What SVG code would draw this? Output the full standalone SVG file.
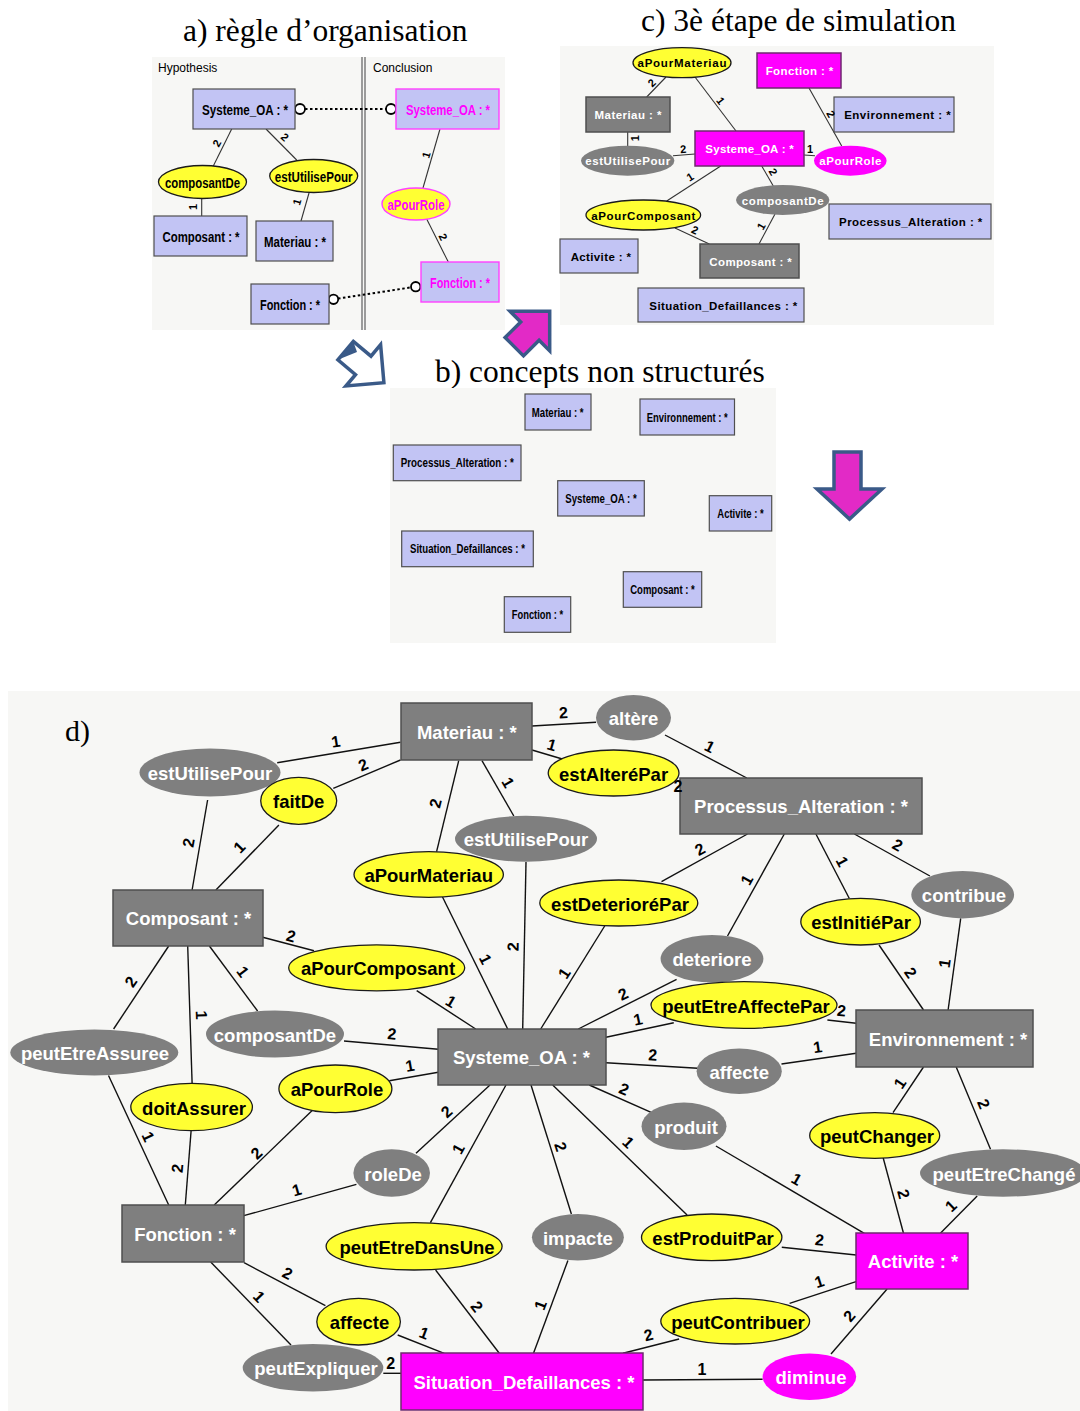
<svg xmlns="http://www.w3.org/2000/svg" width="1080" height="1411" viewBox="0 0 1080 1411">
<style>
.bg{fill:#f7f7f5}
.title{font-family:"Liberation Serif","Times New Roman",serif;font-size:31.5px;fill:#000}
text{font-family:"Liberation Sans",Arial,sans-serif}
.ln{stroke:#111;stroke-width:1.4;fill:none}
.lns{stroke:#333;stroke-width:1.1;fill:none}
.dot{stroke:#000;stroke-width:2;stroke-dasharray:2.5 2.5;fill:none}
.hole{fill:#fff;stroke:#000;stroke-width:1.8}
.gr{fill:#7f7f7f;stroke:#4f4f4f;stroke-width:1.5}
.lv{fill:#c2c4f4;stroke:#4f4f4f;stroke-width:1.2}
.lvm{fill:#c2c4f4;stroke:#ff40ff;stroke-width:1.4}
.mg{fill:#ff00ff;stroke:#6e2a6e;stroke-width:1.5}
.ye{fill:#ffff33;stroke:#1a1a1a;stroke-width:1.3}
.yem{fill:#ffff33;stroke:#ff40ff;stroke-width:1.4}
.ge{fill:#7f7f7f}
.me{fill:#ff00ff}
.L{font-size:18.5px;font-weight:bold;text-anchor:middle;dominant-baseline:central}
.S{font-size:14px;font-weight:bold;text-anchor:middle;dominant-baseline:central}
.B{font-size:12.5px;font-weight:bold;text-anchor:middle;dominant-baseline:central}
.C{font-size:11.5px;font-weight:bold;text-anchor:middle;dominant-baseline:central}
.el{font-size:16px;font-weight:bold;text-anchor:middle;dominant-baseline:central;fill:#000}
.es{font-size:11px;font-weight:bold;text-anchor:middle;dominant-baseline:central;fill:#000}
.w{fill:#fff}
.k{fill:#000}
.m{fill:#ff00ff}
.arr{fill:#e22ac6;stroke:#3a5a88;stroke-width:3.5;stroke-linejoin:miter}
.arrh{fill:#fff;stroke:#3a5a88;stroke-width:3.5}
</style>
<rect width="1080" height="1411" fill="#fff"/>

<!-- titles -->
<text class="title" x="183" y="41">a) règle d’organisation</text>
<text class="title" x="641" y="31">c) 3è étape de simulation</text>
<text class="title" x="435" y="382">b) concepts non structurés</text>

<!-- panel backgrounds -->
<rect class="bg" x="152" y="57" width="353" height="273"/>
<rect class="bg" x="560" y="46" width="434" height="279"/>
<rect class="bg" x="390" y="388" width="386" height="255"/>
<rect class="bg" x="8" y="691" width="1072" height="720"/>
<text x="65" y="741" style="font-family:'Liberation Serif','Times New Roman',serif;font-size:30px">d)</text>

<!-- panel a frame -->
<g id="panel-a-frame">
<line x1="362" y1="57" x2="362" y2="330" stroke="#6a6a6a" stroke-width="1.3"/>
<line x1="365" y1="57" x2="365" y2="330" stroke="#6a6a6a" stroke-width="1.3"/>
<text x="158" y="72" font-size="12">Hypothesis</text>
<text x="373" y="72" font-size="12">Conclusion</text>
</g>

<!-- big arrows -->
<g id="arrows">
<polygon class="arrh" points="353.3,341.4 371,356.2 380.6,344.7 383.9,382.7 345.9,386 355.5,374.6 337.9,359.8"/>
<polygon points="337.9,359.8 353.3,341.4 357,352" fill="#3a5a88"/>
<polygon class="arr" points="505.1,337.5 520.7,321.9 510.1,311.3 549.7,311.3 549.7,350.9 539.1,340.3 523.5,355.9"/>
<polygon class="arr" points="834,452 861,452 861,489 882,489 849.5,519 817,489 834,489"/>
</g>

<!-- connectors -->
<g id="connectors">
<!-- panel a -->
<line class="lns" x1="231.7" y1="129" x2="213.3" y2="166"/>
<line class="lns" x1="266" y1="129" x2="296.7" y2="160"/>
<line class="lns" x1="201.7" y1="198" x2="201.7" y2="216"/>
<line class="lns" x1="309.3" y1="192" x2="301" y2="221"/>
<line class="lns" x1="440" y1="129" x2="422.7" y2="189"/>
<line class="lns" x1="426.7" y1="219" x2="448.3" y2="262"/>
<line class="dot" x1="305" y1="109" x2="386" y2="109"/>
<line class="dot" x1="338" y1="298.6" x2="411" y2="287.4"/>
<circle class="hole" cx="300" cy="109" r="5"/>
<circle class="hole" cx="391" cy="109" r="5"/>
<circle class="hole" cx="333.5" cy="299.3" r="4.7"/>
<circle class="hole" cx="415.7" cy="286.7" r="4.7"/>
<!-- panel c -->
<line class="lns" x1="666" y1="77" x2="646.7" y2="97"/>
<line class="lns" x1="695" y1="77" x2="736" y2="131"/>
<line class="lns" x1="627.7" y1="132" x2="627.7" y2="146"/>
<line class="lns" x1="673" y1="155.7" x2="695" y2="154"/>
<line class="lns" x1="804" y1="155" x2="815" y2="155.7"/>
<line class="lns" x1="809" y1="88" x2="841.7" y2="146"/>
<line class="lns" x1="720.7" y1="166" x2="666.7" y2="201"/>
<line class="lns" x1="761.7" y1="166" x2="773.3" y2="186"/>
<line class="lns" x1="675" y1="228" x2="709.3" y2="244"/>
<line class="lns" x1="775" y1="214" x2="759" y2="244"/>
<!-- panel d -->
<line class="ln" x1="400.5" y1="742.3" x2="277.2" y2="762.7"/>
<line class="ln" x1="400.5" y1="760" x2="333.3" y2="788.3"/>
<line class="ln" x1="207.6" y1="800" x2="192.1" y2="890"/>
<line class="ln" x1="278.9" y1="825" x2="215.9" y2="890"/>
<line class="ln" x1="458.7" y1="760.7" x2="436.6" y2="851.7"/>
<line class="ln" x1="482" y1="760.7" x2="513.8" y2="816"/>
<line class="ln" x1="526" y1="862" x2="522.7" y2="1029"/>
<line class="ln" x1="442.5" y1="897" x2="507.7" y2="1029"/>
<line class="ln" x1="262.7" y1="937.3" x2="314" y2="950.7"/>
<line class="ln" x1="416.7" y1="990.7" x2="475.7" y2="1029"/>
<line class="ln" x1="209.4" y1="946" x2="257.6" y2="1011"/>
<line class="ln" x1="344" y1="1041" x2="438.3" y2="1049.3"/>
<line class="ln" x1="168.7" y1="946" x2="113.6" y2="1029"/>
<line class="ln" x1="187.7" y1="946" x2="192.1" y2="1083.3"/>
<line class="ln" x1="532" y1="726" x2="596" y2="722.3"/>
<line class="ln" x1="532" y1="750" x2="562.3" y2="759"/>
<line class="ln" x1="665" y1="735" x2="746.8" y2="778"/>
<line class="ln" x1="747.5" y1="834" x2="661.5" y2="881.7"/>
<line class="ln" x1="604.7" y1="926" x2="540.7" y2="1029"/>
<line class="ln" x1="784.3" y1="834" x2="727.5" y2="936"/>
<line class="ln" x1="676.6" y1="979.3" x2="578.3" y2="1029"/>
<line class="ln" x1="815.9" y1="834" x2="849.2" y2="898.3"/>
<line class="ln" x1="879" y1="945" x2="923.5" y2="1010"/>
<line class="ln" x1="854.4" y1="834" x2="929.9" y2="876"/>
<line class="ln" x1="960.7" y1="918.3" x2="948.1" y2="1010"/>
<line class="ln" x1="673.8" y1="1022.7" x2="606" y2="1037.3"/>
<line class="ln" x1="827.4" y1="1020" x2="856.2" y2="1023.3"/>
<line class="ln" x1="389.3" y1="1080.7" x2="438.3" y2="1072.3"/>
<line class="ln" x1="606" y1="1062.7" x2="697.7" y2="1068.3"/>
<line class="ln" x1="781.5" y1="1064" x2="856.2" y2="1053.3"/>
<line class="ln" x1="589.3" y1="1085" x2="651.7" y2="1112.7"/>
<line class="ln" x1="490" y1="1085" x2="416" y2="1153.3"/>
<line class="ln" x1="506" y1="1085" x2="430.4" y2="1222.7"/>
<line class="ln" x1="531" y1="1085" x2="571.4" y2="1214"/>
<line class="ln" x1="552.7" y1="1085" x2="687.1" y2="1215"/>
<line class="ln" x1="715.9" y1="1146" x2="864.3" y2="1233.3"/>
<line class="ln" x1="923.5" y1="1067" x2="893" y2="1112.7"/>
<line class="ln" x1="956.2" y1="1067" x2="990.5" y2="1149.3"/>
<line class="ln" x1="883.2" y1="1158" x2="903.5" y2="1233.3"/>
<line class="ln" x1="977.2" y1="1196" x2="940.4" y2="1233.3"/>
<line class="ln" x1="781.8" y1="1247.3" x2="856.2" y2="1255"/>
<line class="ln" x1="856" y1="1281.7" x2="789.6" y2="1303.3"/>
<line class="ln" x1="679.1" y1="1339" x2="623" y2="1353.3"/>
<line class="ln" x1="887.1" y1="1289" x2="831" y2="1354"/>
<line class="ln" x1="643" y1="1380" x2="762.6" y2="1379.3"/>
<line class="ln" x1="567.9" y1="1260.6" x2="533.5" y2="1353.3"/>
<line class="ln" x1="435.6" y1="1270" x2="499.3" y2="1353.3"/>
<line class="ln" x1="397.7" y1="1335" x2="444.2" y2="1353.3"/>
<line class="ln" x1="244" y1="1262.7" x2="325.4" y2="1305.7"/>
<line class="ln" x1="210.7" y1="1262" x2="291" y2="1345"/>
<line class="ln" x1="383.3" y1="1373.3" x2="401.2" y2="1373.3"/>
<line class="ln" x1="108.5" y1="1075.5" x2="168.7" y2="1205"/>
<line class="ln" x1="191.1" y1="1130.7" x2="185.3" y2="1205"/>
<line class="ln" x1="312.7" y1="1110" x2="214.2" y2="1205"/>
<line class="ln" x1="356.4" y1="1184.3" x2="243.8" y2="1215.7"/>
</g>

<!-- panel a nodes -->
<g id="a-systeme-h"><rect class="lv" x="193" y="89" width="102" height="40"/><text class="S k" x="245" y="110" textLength="86" lengthAdjust="spacingAndGlyphs">Systeme_OA : *</text></g>
<g id="a-systeme-c"><rect class="lvm" x="396" y="89" width="103" height="40"/><text class="S m" x="448" y="110" textLength="84" lengthAdjust="spacingAndGlyphs">Systeme_OA : *</text></g>
<g id="a-composantDe"><ellipse class="ye" cx="202.5" cy="182" rx="44" ry="16.5"/><text class="S k" x="202.5" y="182.5" textLength="75" lengthAdjust="spacingAndGlyphs">composantDe</text></g>
<g id="a-estUtilisePour"><ellipse class="ye" cx="313.7" cy="176" rx="44" ry="16.5"/><text class="S k" x="313.7" y="176.5" textLength="77.7" lengthAdjust="spacingAndGlyphs">estUtilisePour</text></g>
<g id="a-composant"><rect class="lv" x="154" y="216" width="93" height="40"/><text class="S k" x="201" y="237" textLength="77" lengthAdjust="spacingAndGlyphs">Composant : *</text></g>
<g id="a-materiau"><rect class="lv" x="256" y="221" width="77" height="40"/><text class="S k" x="295" y="242" textLength="62" lengthAdjust="spacingAndGlyphs">Materiau : *</text></g>
<g id="a-fonction-h"><rect class="lv" x="251" y="284" width="78" height="40"/><text class="S k" x="290" y="305" textLength="60" lengthAdjust="spacingAndGlyphs">Fonction : *</text></g>
<g id="a-aPourRole"><ellipse class="yem" cx="416" cy="204" rx="34" ry="16"/><text class="S m" x="416" y="204.5" textLength="57" lengthAdjust="spacingAndGlyphs">aPourRole</text></g>
<g id="a-fonction-c"><rect class="lvm" x="421" y="262" width="78" height="40"/><text class="S m" x="460" y="283" textLength="60" lengthAdjust="spacingAndGlyphs">Fonction : *</text></g>

<!-- panel c nodes -->
<g id="c-aPourMateriau"><ellipse class="ye" cx="682" cy="62.7" rx="49" ry="15"/><text class="C k" x="682" y="63.2" textLength="89" lengthAdjust="spacing">aPourMateriau</text></g>
<g id="c-fonction"><rect class="mg" x="757" y="53" width="84" height="35"/><text class="C w" x="799.5" y="71" textLength="67.7" lengthAdjust="spacing">Fonction : *</text></g>
<g id="c-materiau"><rect class="gr" x="586" y="97" width="84" height="35"/><text class="C w" x="628" y="115" textLength="67" lengthAdjust="spacing">Materiau : *</text></g>
<g id="c-environnement"><rect class="lv" x="834" y="97" width="120" height="35"/><text class="C k" x="897.5" y="115" textLength="106.7" lengthAdjust="spacing">Environnement : *</text></g>
<g id="c-systeme"><rect class="mg" x="695" y="131" width="109" height="35"/><text class="C w" x="749.5" y="149" textLength="88.3" lengthAdjust="spacing">Systeme_OA : *</text></g>
<g id="c-estUtilisePour"><ellipse class="ge" cx="627.7" cy="160.7" rx="46.7" ry="15"/><text class="C w" x="627.7" y="161.2" textLength="85" lengthAdjust="spacing">estUtilisePour</text></g>
<g id="c-aPourRole"><ellipse class="me" cx="850.3" cy="160.7" rx="36.3" ry="15"/><text class="C w" x="850.3" y="161.2" textLength="62" lengthAdjust="spacing">aPourRole</text></g>
<g id="c-composantDe"><ellipse class="ge" cx="782.7" cy="200" rx="46.7" ry="15"/><text class="C w" x="782.7" y="200.5" textLength="81.7" lengthAdjust="spacing">composantDe</text></g>
<g id="c-aPourComposant"><ellipse class="ye" cx="643.3" cy="215" rx="57.3" ry="15"/><text class="C k" x="643.3" y="215.5" textLength="104" lengthAdjust="spacing">aPourComposant</text></g>
<g id="c-processus"><rect class="lv" x="829" y="204" width="162" height="35"/><text class="C k" x="910.7" y="222" textLength="143.3" lengthAdjust="spacing">Processus_Alteration : *</text></g>
<g id="c-activite"><rect class="lv" x="560" y="239" width="78" height="34"/><text class="C k" x="600.8" y="257" textLength="60.3" lengthAdjust="spacing">Activite : *</text></g>
<g id="c-composant"><rect class="gr" x="700" y="244" width="99" height="34"/><text class="C w" x="750.5" y="262" textLength="82.3" lengthAdjust="spacing">Composant : *</text></g>
<g id="c-situation"><rect class="lv" x="638" y="288" width="166" height="34"/><text class="C k" x="723.3" y="306" textLength="148" lengthAdjust="spacing">Situation_Defaillances : *</text></g>

<!-- panel b nodes -->
<g id="b-materiau"><rect class="lv" x="525" y="394" width="66" height="36"/><text class="B k" x="557.7" y="412.5" textLength="51.8" lengthAdjust="spacingAndGlyphs">Materiau : *</text></g>
<g id="b-environnement"><rect class="lv" x="640" y="399" width="94.5" height="36"/><text class="B k" x="687.2" y="417.5" textLength="81" lengthAdjust="spacingAndGlyphs">Environnement : *</text></g>
<g id="b-processus"><rect class="lv" x="393.3" y="445" width="127.7" height="35.7"/><text class="B k" x="457.3" y="463.3" textLength="113" lengthAdjust="spacingAndGlyphs">Processus_Alteration : *</text></g>
<g id="b-systeme"><rect class="lv" x="557.7" y="480.7" width="86.6" height="35.3"/><text class="B k" x="601" y="498.8" textLength="71.4" lengthAdjust="spacingAndGlyphs">Systeme_OA : *</text></g>
<g id="b-activite"><rect class="lv" x="709.3" y="495.7" width="62.4" height="35.3"/><text class="B k" x="740.5" y="513.8" textLength="46.4" lengthAdjust="spacingAndGlyphs">Activite : *</text></g>
<g id="b-situation"><rect class="lv" x="401.7" y="531" width="131.6" height="35.7"/><text class="B k" x="467.5" y="549.3" textLength="115" lengthAdjust="spacingAndGlyphs">Situation_Defaillances : *</text></g>
<g id="b-composant"><rect class="lv" x="623.3" y="571.7" width="78.4" height="35.6"/><text class="B k" x="662.5" y="590" textLength="64.6" lengthAdjust="spacingAndGlyphs">Composant : *</text></g>
<g id="b-fonction"><rect class="lv" x="504.3" y="596.7" width="66.4" height="35.6"/><text class="B k" x="537.5" y="615" textLength="51.4" lengthAdjust="spacingAndGlyphs">Fonction : *</text></g>

<!-- panel d nodes -->
<g id="d-materiau"><rect class="gr" x="401" y="703" width="131" height="57"/><text class="L w" x="466.8" y="732.5">Materiau : *</text></g>
<g id="d-processus"><rect class="gr" x="680" y="778" width="242" height="56"/><text class="L w" x="801" y="806.5">Processus_Alteration : *</text></g>
<g id="d-composant"><rect class="gr" x="113" y="890" width="150" height="56"/><text class="L w" x="188.5" y="918.5">Composant : *</text></g>
<g id="d-systeme"><rect class="gr" x="438" y="1029" width="168" height="56"/><text class="L w" x="521.5" y="1057.5">Systeme_OA : *</text></g>
<g id="d-environnement"><rect class="gr" x="856" y="1010" width="177" height="57"/><text class="L w" x="948" y="1039">Environnement : *</text></g>
<g id="d-fonction"><rect class="gr" x="122" y="1205" width="122" height="57"/><text class="L w" x="185" y="1234">Fonction : *</text></g>
<g id="d-activite"><rect class="mg" x="856" y="1233" width="112" height="56"/><text class="L w" x="913" y="1261.5">Activite : *</text></g>
<g id="d-situation"><rect class="mg" x="401" y="1353" width="242" height="57"/><text class="L w" x="524" y="1382">Situation_Defaillances : *</text></g>

<g id="d-estUtilisePour1"><ellipse class="ge" cx="210" cy="772.5" rx="70.5" ry="24"/><text class="L w" x="210" y="773.5">estUtilisePour</text></g>
<g id="d-faitDe"><ellipse class="ye" cx="298.7" cy="800.8" rx="38" ry="23.5"/><text class="L k" x="298.7" y="801.8">faitDe</text></g>
<g id="d-estUtilisePour2"><ellipse class="ge" cx="526" cy="838.8" rx="71" ry="23"/><text class="L w" x="526" y="839.8">estUtilisePour</text></g>
<g id="d-aPourMateriau"><ellipse class="ye" cx="428.7" cy="874.5" rx="74.7" ry="22.8"/><text class="L k" x="428.7" y="875.5">aPourMateriau</text></g>
<g id="d-altere"><ellipse class="ge" cx="633.5" cy="717.8" rx="37.5" ry="22.8"/><text class="L w" x="633.5" y="718.8">altère</text></g>
<g id="d-estAlterePar"><ellipse class="ye" cx="613.6" cy="773" rx="65.4" ry="23"/><text class="L k" x="613.6" y="774">estAlteréPar</text></g>
<g id="d-estDeteriorePar"><ellipse class="ye" cx="618.8" cy="903" rx="79" ry="23"/><text class="L k" x="620" y="904">estDeterioréPar</text></g>
<g id="d-deteriore"><ellipse class="ge" cx="712" cy="958.8" rx="51.4" ry="23.8"/><text class="L w" x="712" y="959.8">deteriore</text></g>
<g id="d-estInitiePar"><ellipse class="ye" cx="860.6" cy="921.7" rx="59.8" ry="23.3"/><text class="L k" x="861" y="922.7">estInitiéPar</text></g>
<g id="d-contribue"><ellipse class="ge" cx="962.7" cy="894.7" rx="51.4" ry="23.7"/><text class="L w" x="964" y="895.7">contribue</text></g>
<g id="d-aPourComposant"><ellipse class="ye" cx="376.7" cy="967.8" rx="88" ry="23"/><text class="L k" x="378" y="968.8">aPourComposant</text></g>
<g id="d-composantDe"><ellipse class="ge" cx="275" cy="1034" rx="69" ry="23.5"/><text class="L w" x="275" y="1035">composantDe</text></g>
<g id="d-peutEtreAssuree"><ellipse class="ge" cx="94.3" cy="1052.5" rx="84" ry="23"/><text class="L w" x="95" y="1053.5">peutEtreAssuree</text></g>
<g id="d-peutEtreAffectePar"><ellipse class="ye" cx="744" cy="1005" rx="93" ry="23.3"/><text class="L k" x="746" y="1006">peutEtreAffectePar</text></g>
<g id="d-affecte-g"><ellipse class="ge" cx="739.2" cy="1071.2" rx="42.6" ry="22.8"/><text class="L w" x="739.2" y="1072.2">affecte</text></g>
<g id="d-aPourRole"><ellipse class="ye" cx="335.4" cy="1088.8" rx="56.5" ry="23.8"/><text class="L k" x="337" y="1089.8">aPourRole</text></g>
<g id="d-doitAssurer"><ellipse class="ye" cx="191.6" cy="1107" rx="60.8" ry="23.7"/><text class="L k" x="194" y="1108">doitAssurer</text></g>
<g id="d-produit"><ellipse class="ge" cx="684" cy="1126.3" rx="42.5" ry="23.7"/><text class="L w" x="686" y="1127.3">produit</text></g>
<g id="d-peutChanger"><ellipse class="ye" cx="874.7" cy="1135.5" rx="65" ry="22.8"/><text class="L k" x="877" y="1136.5">peutChanger</text></g>
<g id="d-roleDe"><ellipse class="ge" cx="391.7" cy="1173" rx="38.3" ry="23.7"/><text class="L w" x="393" y="1174">roleDe</text></g>
<g id="d-peutEtreChange"><ellipse class="ge" cx="1003" cy="1173" rx="83" ry="23.7"/><text class="L w" x="1004" y="1174">peutEtreChangé</text></g>
<g id="d-impacte"><ellipse class="ge" cx="577.9" cy="1237.3" rx="46" ry="23.3"/><text class="L w" x="577.9" y="1238.3">impacte</text></g>
<g id="d-estProduitPar"><ellipse class="ye" cx="711.7" cy="1237.3" rx="70.2" ry="23.3"/><text class="L k" x="713" y="1238.3">estProduitPar</text></g>
<g id="d-peutEtreDansUne"><ellipse class="ye" cx="414.1" cy="1246.3" rx="88" ry="23.7"/><text class="L k" x="417" y="1247.3">peutEtreDansUne</text></g>
<g id="d-affecte-y"><ellipse class="ye" cx="358.6" cy="1321.7" rx="41.8" ry="23.3"/><text class="L k" x="359.5" y="1322.7">affecte</text></g>
<g id="d-peutContribuer"><ellipse class="ye" cx="735.2" cy="1321.2" rx="74.4" ry="22.8"/><text class="L k" x="738" y="1322.2">peutContribuer</text></g>
<g id="d-peutExpliquer"><ellipse class="ge" cx="313" cy="1367.8" rx="70.3" ry="23.8"/><text class="L w" x="316" y="1368.8">peutExpliquer</text></g>
<g id="d-diminue"><ellipse class="me" cx="809.4" cy="1376.7" rx="46.8" ry="23.3"/><text class="L w" x="811" y="1377.7">diminue</text></g>

<!-- connector labels -->
<g id="connector-labels">
<!-- a -->
<text class="es" x="216.7" y="143" transform="rotate(-61 216.7 143)">2</text>
<text class="es" x="285" y="137" transform="rotate(42 285 137)">2</text>
<text class="es" x="193" y="207" transform="rotate(-90 193 207)">1</text>
<text class="es" x="296.7" y="202" transform="rotate(-73 296.7 202)">1</text>
<text class="es" x="426" y="155" transform="rotate(-73 426 155)">1</text>
<text class="es" x="443.3" y="237" transform="rotate(63 443.3 237)">2</text>
<!-- c -->
<text class="es" x="651.7" y="82.7" transform="rotate(-44 651.7 82.7)">2</text>
<text class="es" x="720.7" y="100.7" transform="rotate(52 720.7 100.7)">1</text>
<text class="es" x="635" y="138.3" transform="rotate(-90 635 138.3)">1</text>
<text class="es" x="683.3" y="149" transform="rotate(-5 683.3 149)">2</text>
<text class="es" x="810" y="149.3">1</text>
<text class="es" x="831" y="114" transform="rotate(61 831 114)">2</text>
<text class="es" x="690" y="176.7" transform="rotate(-32 690 176.7)">1</text>
<text class="es" x="773.3" y="171.7" transform="rotate(59 773.3 171.7)">2</text>
<text class="es" x="695" y="230" transform="rotate(25 695 230)">2</text>
<text class="es" x="761" y="226" transform="rotate(-60 761 226)">1</text>
<!-- d -->
<text class="el" x="335.7" y="741.7" transform="rotate(-9 335.7 741.7)">1</text>
<text class="el" x="363.3" y="765" transform="rotate(-23 363.3 765)">2</text>
<text class="el" x="188.7" y="842.7" transform="rotate(-80 188.7 842.7)">2</text>
<text class="el" x="239.3" y="847.3" transform="rotate(-46 239.3 847.3)">1</text>
<text class="el" x="435.6" y="803.3" transform="rotate(-76 435.6 803.3)">2</text>
<text class="el" x="508" y="782.7" transform="rotate(60 508 782.7)">1</text>
<text class="el" x="513" y="946.7" transform="rotate(-89 513 946.7)">2</text>
<text class="el" x="485.5" y="959.3" transform="rotate(63 485.5 959.3)">1</text>
<text class="el" x="291" y="936" transform="rotate(15 291 936)">2</text>
<text class="el" x="451" y="1001.7" transform="rotate(31 451 1001.7)">1</text>
<text class="el" x="242.8" y="971.7" transform="rotate(53 242.8 971.7)">1</text>
<text class="el" x="392" y="1034" transform="rotate(5 392 1034)">2</text>
<text class="el" x="130.9" y="981.7" transform="rotate(-56 130.9 981.7)">2</text>
<text class="el" x="201.4" y="1015" transform="rotate(88 201.4 1015)">1</text>
<text class="el" x="563.3" y="712.7" transform="rotate(-3 563.3 712.7)">2</text>
<text class="el" x="551.7" y="745" transform="rotate(16 551.7 745)">1</text>
<text class="el" x="678" y="786.7">2</text>
<text class="el" x="709.6" y="746.7" transform="rotate(27 709.6 746.7)">1</text>
<text class="el" x="700" y="849.3" transform="rotate(-29 700 849.3)">2</text>
<text class="el" x="564.4" y="973.3" transform="rotate(-57 564.4 973.3)">1</text>
<text class="el" x="746.8" y="880" transform="rotate(-61 746.8 880)">1</text>
<text class="el" x="623" y="994" transform="rotate(-26 623 994)">2</text>
<text class="el" x="842.2" y="861.7" transform="rotate(62 842.2 861.7)">1</text>
<text class="el" x="910.6" y="972.7" transform="rotate(55 910.6 972.7)">2</text>
<text class="el" x="897.6" y="845" transform="rotate(29 897.6 845)">2</text>
<text class="el" x="944.6" y="963.3" transform="rotate(-82 944.6 963.3)">1</text>
<text class="el" x="638" y="1019.5" transform="rotate(-12 638 1019.5)">1</text>
<text class="el" x="841.5" y="1010.7" transform="rotate(6 841.5 1010.7)">2</text>
<text class="el" x="410" y="1065.7" transform="rotate(-10 410 1065.7)">1</text>
<text class="el" x="652.8" y="1055" transform="rotate(3 652.8 1055)">2</text>
<text class="el" x="817.6" y="1047.3" transform="rotate(-8 817.6 1047.3)">1</text>
<text class="el" x="624" y="1089.3" transform="rotate(23 624 1089.3)">2</text>
<text class="el" x="446.7" y="1111.7" transform="rotate(-42 446.7 1111.7)">2</text>
<text class="el" x="458.3" y="1149" transform="rotate(-61 458.3 1149)">1</text>
<text class="el" x="560.5" y="1146.7" transform="rotate(72 560.5 1146.7)">2</text>
<text class="el" x="628.3" y="1142.3" transform="rotate(44 628.3 1142.3)">1</text>
<text class="el" x="796.6" y="1179.3" transform="rotate(30 796.6 1179.3)">1</text>
<text class="el" x="900" y="1083.3" transform="rotate(-56 900 1083.3)">1</text>
<text class="el" x="983.5" y="1104" transform="rotate(67 983.5 1104)">2</text>
<text class="el" x="903.5" y="1194" transform="rotate(74 903.5 1194)">2</text>
<text class="el" x="950.9" y="1206" transform="rotate(-44 950.9 1206)">1</text>
<text class="el" x="819.4" y="1240" transform="rotate(6 819.4 1240)">2</text>
<text class="el" x="819.4" y="1281.7" transform="rotate(-18 819.4 1281.7)">1</text>
<text class="el" x="648.6" y="1335" transform="rotate(-14 648.6 1335)">2</text>
<text class="el" x="849.2" y="1316" transform="rotate(-49 849.2 1316)">2</text>
<text class="el" x="701.9" y="1369">1</text>
<text class="el" x="540.5" y="1305" transform="rotate(-69 540.5 1305)">1</text>
<text class="el" x="476.9" y="1306.7" transform="rotate(52 476.9 1306.7)">2</text>
<text class="el" x="424.2" y="1333.3" transform="rotate(21 424.2 1333.3)">1</text>
<text class="el" x="287.5" y="1273.3" transform="rotate(27 287.5 1273.3)">2</text>
<text class="el" x="259" y="1296.7" transform="rotate(46 259 1296.7)">1</text>
<text class="el" x="390.8" y="1363">2</text>
<text class="el" x="148" y="1136.7" transform="rotate(65 148 1136.7)">1</text>
<text class="el" x="177.3" y="1168.3" transform="rotate(-85 177.3 1168.3)">2</text>
<text class="el" x="256.5" y="1153.3" transform="rotate(-43 256.5 1153.3)">2</text>
<text class="el" x="296.8" y="1190" transform="rotate(-16 296.8 1190)">1</text>
</g>
</svg>
